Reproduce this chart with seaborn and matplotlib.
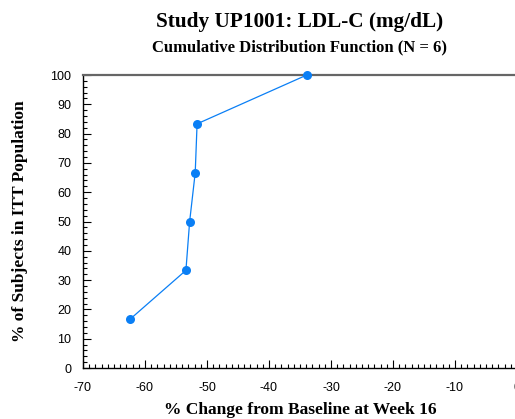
import matplotlib
matplotlib.use("Agg")
import matplotlib.pyplot as plt
from matplotlib.ticker import MultipleLocator
import seaborn as sns
import pandas as pd

# Percent change from baseline in LDL-C at week 16, sorted ascending
pct_change = [-62.4, -53.4, -52.8, -51.9, -51.6, -33.9]
# Cumulative percent of subjects (N = 6)
cum_pct = [16.67, 33.33, 50.0, 66.67, 83.33, 100.0]

x_ticks = [-70, -60, -50, -40, -30, -20, -10, 0]
y_ticks = [0, 10, 20, 30, 40, 50, 60, 70, 80, 90, 100]

df = pd.DataFrame({"change": pct_change, "cum": cum_pct})

sns.set_style("white")
plt.rcParams["font.family"] = ["Liberation Sans", "DejaVu Sans"]
plt.rcParams["axes.unicode_minus"] = False
plt.rcParams["text.color"] = "black"

fig = plt.figure(figsize=(5.15, 4.19), dpi=100)
ax = fig.add_axes([83 / 515, 1 - 368 / 419, (517 - 83) / 515, (368 - 75) / 419])

blue = "#0a7ff5"
sns.lineplot(data=df, x="change", y="cum", ax=ax, sort=False, color=blue,
             linewidth=0.9, marker="o", markersize=6.5, markeredgewidth=0,
             markerfacecolor=blue, clip_on=False, zorder=5)

ax.set_xlim(-70, 0)
ax.set_ylim(0, 100)
ax.set_xticks(x_ticks)
ax.set_yticks(y_ticks)
ax.xaxis.set_minor_locator(MultipleLocator(1))
ax.yaxis.set_minor_locator(MultipleLocator(2))

ax.tick_params(axis="both", which="both", bottom=True, left=True,
               top=False, right=False)
ax.tick_params(axis="both", which="major", direction="in", length=5.5,
               width=0.8, color="black", labelsize=9, labelcolor="black")
ax.tick_params(axis="both", which="minor", direction="in", length=3, width=0.8,
               color="black")
ax.tick_params(axis="x", which="major", pad=10)
ax.tick_params(axis="y", which="major", pad=8.5)

for side in ("left", "bottom"):
    ax.spines[side].set_color("black")
    ax.spines[side].set_linewidth(1.0)
ax.spines["top"].set_color("#666666")
ax.spines["top"].set_linewidth(1.6)
ax.spines["right"].set_visible(False)

serif = ["Liberation Serif", "DejaVu Serif"]
ax.set_xlabel("% Change from Baseline at Week 16", family=serif,
              fontweight="bold", fontsize=12.5, color="black")
ax.set_ylabel("% of Subjects in ITT Population", family=serif,
              fontweight="bold", fontsize=12.5, color="black")
ax.xaxis.set_label_coords(0.5, -(410 - 368) / (368 - 75))
ax.yaxis.set_label_coords(-(83 - 20) / (517 - 83), 0.5)
ax.xaxis.label.set_va("center")
ax.yaxis.label.set_va("center")

cx = (83 + 517) / 2 / 515
fig.text(cx, 1 - 22 / 419, "Study UP1001: LDL-C (mg/dL)", family=serif,
         fontweight="bold", fontsize=15.3, ha="center", va="center")
fig.text(cx, 1 - 47 / 419, "Cumulative Distribution Function (N = 6)",
         family=serif, fontweight="bold", fontsize=12, ha="center",
         va="center")

fig.savefig("out.png", dpi=100)
